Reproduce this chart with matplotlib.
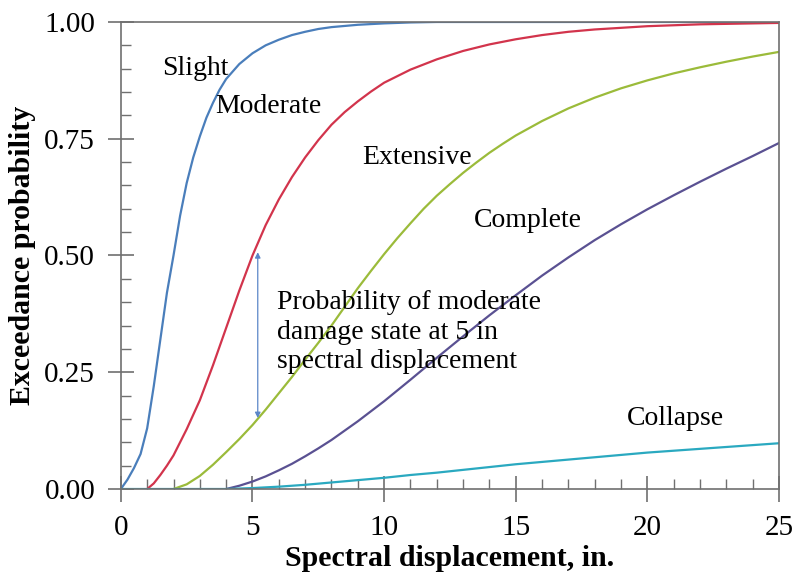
import matplotlib.pyplot as plt
from matplotlib.ticker import MultipleLocator

plt.rcParams['font.family'] = ['Liberation Serif', 'DejaVu Serif']

# Fragility curves (spectral displacement in inches, probability)
slight_x = [0, 0.25, 0.5, 0.75, 1, 1.25, 1.5, 1.75, 2, 2.25, 2.5, 2.75, 3, 3.25, 3.5,
            3.75, 4, 4.5, 5, 5.5, 6, 6.5, 7, 7.5, 8, 9, 10, 11, 12, 25]
slight_y = [0, 0.02, 0.045, 0.075, 0.13, 0.22, 0.32, 0.42, 0.50, 0.585, 0.655, 0.71,
            0.755, 0.795, 0.827, 0.855, 0.878, 0.91, 0.933, 0.95, 0.962, 0.972, 0.979,
            0.985, 0.989, 0.994, 0.997, 0.999, 1, 1]

moderate_x = [1, 1.25, 1.5, 1.75, 2, 2.5, 3, 3.5, 4, 4.5, 5, 5.5, 6, 6.5, 7, 7.5, 8,
              8.5, 9, 9.5, 10, 11, 12, 13, 14, 15, 16, 17, 18, 20, 22, 25]
moderate_y = [0, 0.012, 0.03, 0.05, 0.072, 0.128, 0.19, 0.265, 0.345, 0.425, 0.50,
              0.565, 0.62, 0.668, 0.71, 0.747, 0.78, 0.807, 0.83, 0.851, 0.87, 0.898,
              0.92, 0.938, 0.952, 0.963, 0.972, 0.979, 0.984, 0.991, 0.995, 0.998]

extensive_x = [2, 2.5, 3, 3.5, 4, 4.5, 5, 5.5, 6, 6.5, 7, 7.5, 8, 8.5, 9, 9.5, 10,
               10.5, 11, 11.5, 12, 12.5, 13, 13.5, 14, 14.5, 15, 16, 17, 18, 19, 20,
               21, 22, 23, 24, 25]
extensive_y = [0, 0.01, 0.028, 0.052, 0.079, 0.107, 0.137, 0.17, 0.205, 0.24, 0.277,
               0.313, 0.35, 0.39, 0.43, 0.467, 0.503, 0.537, 0.569, 0.60, 0.628, 0.653,
               0.677, 0.699, 0.72, 0.739, 0.757, 0.788, 0.815, 0.838, 0.858, 0.875,
               0.89, 0.903, 0.915, 0.926, 0.936]

complete_x = [4, 4.5, 5, 5.5, 6, 6.5, 7, 7.5, 8, 9, 10, 11, 12, 13, 14, 15, 16, 17,
              18, 19, 20, 21, 22, 23, 24, 25]
complete_y = [0, 0.007, 0.016, 0.027, 0.04, 0.054, 0.07, 0.087, 0.105, 0.145, 0.188,
              0.234, 0.281, 0.327, 0.372, 0.415, 0.457, 0.496, 0.533, 0.567, 0.599,
              0.629, 0.658, 0.686, 0.713, 0.741]

collapse_x = [0, 4, 5, 6, 7, 8, 9, 10, 11, 12, 13, 14, 15, 16, 17, 18, 19, 20, 21,
              22, 23, 24, 25]
collapse_y = [0, 0, 0.002, 0.005, 0.009, 0.014, 0.019, 0.024, 0.03, 0.035, 0.041,
              0.047, 0.053, 0.058, 0.063, 0.068, 0.073, 0.078, 0.082, 0.086, 0.09,
              0.094, 0.098]

fig = plt.figure(figsize=(7.95, 5.77), dpi=100)
ax = fig.add_axes([0.152, 0.1525, 0.828, 0.8094])

lw = 1.6
style = dict(lw=lw, solid_joinstyle='round', solid_capstyle='round')
ax.plot(slight_x, slight_y, color='#4a7ebb', **style)
ax.plot(moderate_x, moderate_y, color='#d2344c', **style)
ax.plot(extensive_x, extensive_y, color='#9bbb3a', **style)
ax.plot(complete_x, complete_y, color='#5a5192', **style)
ax.plot(collapse_x, collapse_y, color='#2aa9c0', **style)

ax.set_xlim(0, 25)
ax.set_ylim(0, 1)
ax.xaxis.set_major_locator(MultipleLocator(5))
ax.xaxis.set_minor_locator(MultipleLocator(1))
ax.yaxis.set_major_locator(MultipleLocator(0.25))
ax.yaxis.set_minor_locator(MultipleLocator(0.05))
ax.yaxis.set_major_formatter(lambda v, p: f'{v:.2f}')

spine_col = '#707070'
for s in ax.spines.values():
    s.set_color(spine_col)
    s.set_linewidth(1.2)

ax.tick_params(which='major', direction='inout', length=19, width=1.2,
               color=spine_col, labelsize=21, pad=9)
ax.tick_params(which='minor', direction='in', length=7, width=1.0, color=spine_col)

ax.set_xlabel('Spectral displacement, in.', fontsize=21.5, fontweight='bold', labelpad=3)
ax.set_ylabel('Exceedance probability', fontsize=21.5, fontweight='bold', labelpad=6)

fs = 20
ax.text(1.56, 0.90, 'Slight', fontsize=fs, va='center', ha='left')
ax.text(3.57, 0.82, 'Moderate', fontsize=fs, va='center', ha='left')
ax.text(9.16, 0.709, 'Extensive', fontsize=fs, va='center', ha='left')
ax.text(13.4, 0.574, 'Complete', fontsize=fs, va='center', ha='left')
ax.text(19.2, 0.152, 'Collapse', fontsize=fs, va='center', ha='left')
ax.text(5.93, 0.336, 'Probability of moderate\ndamage state at 5 in\nspectral displacement',
        fontsize=fs, va='center', ha='left', linespacing=1.22)

ax.annotate('', xy=(5.2, 0.152), xytext=(5.2, 0.507),
            arrowprops=dict(arrowstyle='<|-|>', color='#5b86c8', lw=0.9,
                            mutation_scale=8, shrinkA=0, shrinkB=0))

fig.savefig('out.png', dpi=100)
